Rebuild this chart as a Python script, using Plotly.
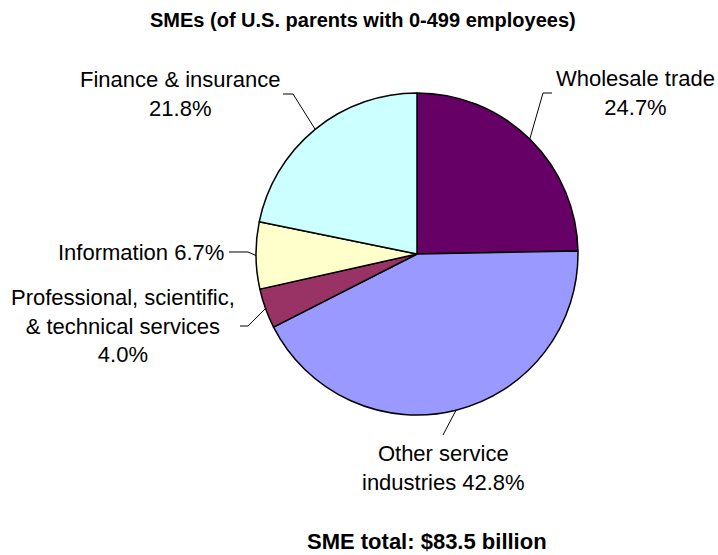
import math
import plotly.graph_objects as go

# ---- data ----
labels = ["Wholesale trade", "Other service industries",
          "Professional, scientific, & technical services",
          "Information", "Finance & insurance"]
values = [24.7, 42.8, 4.0, 6.7, 21.8]
colors = ["#660066", "#9999FF", "#993366", "#FFFFCC", "#CCFFFF"]
label_texts = ["Wholesale trade<br>24.7%",
               "Other service<br>industries 42.8%",
               "Professional, scientific,<br>& technical services<br>4.0%",
               "Information 6.7%",
               "Finance & insurance<br>21.8%"]
title_text = "SMEs (of U.S. parents with 0-499 employees)"
footer_text = "SME total: $83.5 billion"

# ---- layout geometry (pixels) ----
W, H = 718, 555
cx, cy, r = 417, 254, 161
label_layout = [
    dict(pos=(635, 93), xanchor="center", elbow=(543, 93), end=(552, 93)),
    dict(pos=(443, 468), xanchor="center", elbow=(443, 435), end=None),
    dict(pos=(123, 326), xanchor="center", elbow=(248, 326), end=(240, 326)),
    dict(pos=(226, 252), xanchor="right", elbow=(248, 252), end=(229, 252)),
    dict(pos=(180, 94), xanchor="center", elbow=(293, 94), end=(283, 94)),
]

FONT = "Liberation Sans, Arial, sans-serif"

def px2paper(x, y):
    return x / W, 1 - y / H

fig = go.Figure()
x0, y0 = px2paper(cx - r, cy + r)
x1, y1 = px2paper(cx + r, cy - r)
fig.add_trace(go.Pie(
    labels=labels, values=values, sort=False, direction="clockwise",
    rotation=0, textinfo="none", hoverinfo="label+percent",
    marker=dict(colors=colors, line=dict(color="black", width=1.5)),
    domain=dict(x=[x0, x1], y=[y0, y1]), showlegend=False,
))

total = sum(values)
cum = 0.0
shapes = []
annotations = []
for v, txt, lay in zip(values, label_texts, label_layout):
    mid = (cum + v / 2) / total
    cum += v
    th = 2 * math.pi * mid
    ex, ey = cx + r * math.sin(th), cy - r * math.cos(th)
    pts = [(ex, ey), lay["elbow"]]
    if lay["end"] is not None:
        pts.append(lay["end"])
    path = "M " + " L ".join(f"{px2paper(*p)[0]:.5f},{px2paper(*p)[1]:.5f}" for p in pts)
    shapes.append(dict(type="path", xref="paper", yref="paper", path=path,
                       line=dict(color="black", width=1)))
    ax_, ay_ = px2paper(*lay["pos"])
    annotations.append(dict(x=ax_, y=ay_, xref="paper", yref="paper", text=txt,
                            showarrow=False, xanchor=lay["xanchor"], yanchor="middle",
                            align="center", font=dict(family=FONT, size=22, color="black")))

tx, ty = px2paper(363, 20)
annotations.append(dict(x=tx, y=ty, xref="paper", yref="paper", text=f"<b>{title_text}</b>",
                        showarrow=False, xanchor="center", yanchor="middle",
                        font=dict(family=FONT, size=20, color="black")))
fx, fy = px2paper(427, 541)
annotations.append(dict(x=fx, y=fy, xref="paper", yref="paper", text=f"<b>{footer_text}</b>",
                        showarrow=False, xanchor="center", yanchor="middle",
                        font=dict(family=FONT, size=22, color="black")))

fig.update_layout(width=W, height=H, margin=dict(l=0, r=0, t=0, b=0),
                  paper_bgcolor="white", plot_bgcolor="white",
                  shapes=shapes, annotations=annotations)
fig.write_html("out.html", config={"displayModeBar": False},
               post_script="document.body.style.margin='0';document.body.style.overflow='hidden';")
